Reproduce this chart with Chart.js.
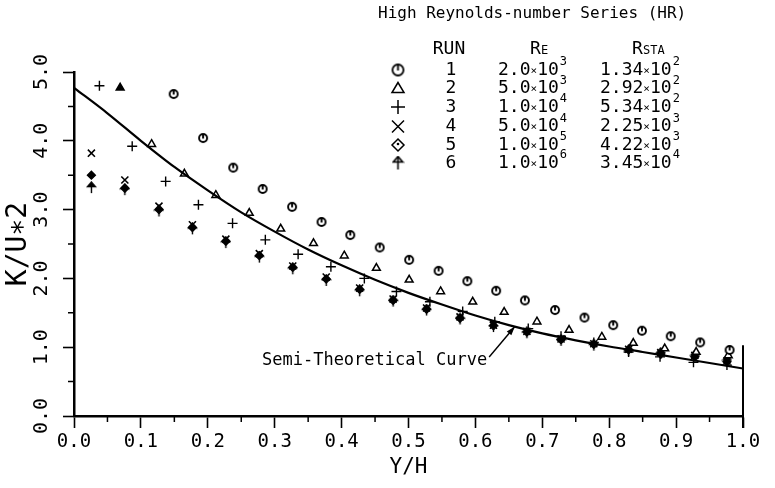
<!DOCTYPE html>
<html lang="en">
<head>
  <meta charset="UTF-8">
  <title>High Reynolds-number Series (HR)</title>
  <script src="https://cdn.jsdelivr.net/npm/chart.js"></script>
  <style>
    body {
      margin: 0;
      padding: 0;
      background: #fff;
    }
    canvas {
      display: block;
    }
  </style>
</head>
<body>
  <canvas id="myChart" width="775" height="488"></canvas>

  <script>
    // semi-theoretical curve
    const curveX = [0.00, 0.05, 0.10, 0.15, 0.20, 0.25, 0.30, 0.35, 0.40, 0.45, 0.50,
                    0.55, 0.60, 0.65, 0.70, 0.75, 0.80, 0.85, 0.90, 0.95, 1.00];
    const curveY = [4.77, 4.40, 4.00, 3.62, 3.28, 2.96, 2.68, 2.42, 2.19, 1.98, 1.79,
                    1.62, 1.46, 1.32, 1.20, 1.10, 1.01, 0.93, 0.85, 0.77, 0.69];

    // measured runs
    const run1X = [0.149, 0.193, 0.238, 0.282, 0.326, 0.370, 0.413, 0.457, 0.501, 0.545,
                   0.588, 0.631, 0.674, 0.719, 0.763, 0.806, 0.849, 0.892, 0.936, 0.980];
    const run1Y = [4.68, 4.04, 3.61, 3.30, 3.04, 2.82, 2.63, 2.45, 2.27, 2.11,
                   1.96, 1.82, 1.68, 1.54, 1.43, 1.32, 1.24, 1.16, 1.07, 0.96];

    const run2X = [0.069, 0.116, 0.165, 0.212, 0.262, 0.309, 0.358, 0.404, 0.452, 0.501,
                   0.548, 0.596, 0.643, 0.692, 0.740, 0.789, 0.836, 0.883, 0.930, 0.978];
    const run2Y = [4.77, 3.95, 3.52, 3.21, 2.95, 2.72, 2.51, 2.33, 2.15, 1.98,
                   1.81, 1.66, 1.51, 1.37, 1.25, 1.15, 1.06, 0.98, 0.93, 0.88];

    const run3X = [0.038, 0.087, 0.137, 0.186, 0.237, 0.286, 0.335, 0.384, 0.434, 0.482,
                   0.532, 0.581, 0.629, 0.679, 0.728, 0.777, 0.829, 0.876, 0.926, 0.976];
    const run3Y = [4.80, 3.92, 3.41, 3.07, 2.80, 2.56, 2.35, 2.17, 2.00, 1.81,
                   1.66, 1.52, 1.37, 1.27, 1.16, 1.07, 0.93, 0.86, 0.78, 0.74];

    // runs 4-6 share the same stations
    const run456X = [0.026, 0.076, 0.127, 0.177, 0.227, 0.277, 0.327, 0.377, 0.427, 0.477,
                     0.527, 0.577, 0.627, 0.677, 0.728, 0.777, 0.829, 0.877, 0.928, 0.976];
    const run4Y = [3.82, 3.43, 3.05, 2.78, 2.57, 2.36, 2.18, 2.02, 1.86, 1.70,
                   1.57, 1.44, 1.32, 1.23, 1.12, 1.05, 0.97, 0.92, 0.88, 0.80];
    const run5Y = [3.50, 3.31, 3.00, 2.74, 2.54, 2.33, 2.16, 1.99, 1.84, 1.68,
                   1.55, 1.42, 1.31, 1.22, 1.11, 1.04, 0.96, 0.90, 0.86, 0.79];
    const run6Y = [3.32, 3.29, 2.98, 2.72, 2.52, 2.31, 2.14, 1.97, 1.82, 1.67,
                   1.54, 1.41, 1.30, 1.21, 1.10, 1.03, 0.95, 0.91, 0.87, 0.80];

    // axes
    const xTickLabels = ['0.0', '0.1', '0.2', '0.3', '0.4', '0.5', '0.6', '0.7', '0.8', '0.9', '1.0'];
    const yTickLabels = ['0.0', '1.0', '2.0', '3.0', '4.0', '5.0'];
    const xMinorTicks = [0.05, 0.15, 0.25, 0.35, 0.45, 0.55, 0.65, 0.75, 0.85, 0.95];
    const yMinorTicks = [0.5, 1.5, 2.5, 3.5, 4.5];

    // legend table
    const runNames = ['1', '2', '3', '4', '5', '6'];
    const reMant = ['2.0', '5.0', '1.0', '5.0', '1.0', '1.0'];
    const reExp = ['3', '3', '4', '4', '5', '6'];
    const rstaMant = ['1.34', '2.92', '5.34', '2.25', '4.22', '3.45'];
    const rstaExp = ['2', '2', '2', '3', '3', '4'];

    const FONT = "'DejaVu Sans Mono', monospace";

    function pts(xs, ys) {
      return xs.map((x, i) => ({ x: x, y: ys[i] }));
    }

    // circle with a little tick at the top
    function makeClock(r, lw) {
      const c = document.createElement('canvas');
      const s = Math.ceil(2 * r + lw + 2);
      c.width = s; c.height = s;
      const g = c.getContext('2d');
      g.strokeStyle = '#000'; g.fillStyle = '#fff'; g.lineWidth = lw;
      g.beginPath(); g.arc(s / 2, s / 2, r, 0, Math.PI * 2); g.fill(); g.stroke();
      g.beginPath(); g.moveTo(s / 2, s / 2 - r); g.lineTo(s / 2, s / 2 + 0.5); g.stroke();
      return c;
    }

    // arrow pointing up
    function makeArrow(h, filled, lw) {
      const c = document.createElement('canvas');
      const w = Math.ceil(h * 0.8) + 2;
      c.width = w; c.height = h + 2;
      const g = c.getContext('2d');
      g.strokeStyle = '#000'; g.fillStyle = filled ? '#000' : '#fff'; g.lineWidth = lw;
      const cx = w / 2;
      g.beginPath();
      g.moveTo(cx, 1); g.lineTo(cx - h * 0.36, h * 0.5); g.lineTo(cx + h * 0.36, h * 0.5); g.closePath();
      g.fill(); g.stroke();
      g.beginPath(); g.moveTo(cx, 1); g.lineTo(cx, h + 1); g.stroke();
      return c;
    }

    const clockPoint = makeClock(4, 1.9);
    const clockLegend = makeClock(5.5, 1.8);
    const arrowPoint = makeArrow(11, true, 1.4);
    const arrowLegend = makeArrow(13, false, 1.6);

    const decorations = {
      id: 'decorations',
      afterDraw(chart) {
        const ctx = chart.ctx;
        const area = chart.chartArea;
        const xs = chart.scales.x;
        const ys = chart.scales.y;

        ctx.save();
        ctx.strokeStyle = '#000';
        ctx.fillStyle = '#000';
        ctx.lineCap = 'butt';

        // minor ticks
        ctx.lineWidth = 1.5;
        ctx.beginPath();
        xMinorTicks.forEach(v => {
          const px = xs.getPixelForValue(v);
          ctx.moveTo(px, area.bottom); ctx.lineTo(px, area.bottom + 6);
        });
        yMinorTicks.forEach(v => {
          const py = ys.getPixelForValue(v);
          ctx.moveTo(area.left - 6, py); ctx.lineTo(area.left, py);
        });
        ctx.stroke();

        // short right-hand edge
        ctx.lineWidth = 2;
        ctx.beginPath();
        ctx.moveTo(area.right, ys.getPixelForValue(1.03));
        ctx.lineTo(area.right, area.bottom + 12);
        ctx.stroke();

        // curve label with arrow
        ctx.font = '17px ' + FONT;
        ctx.textAlign = 'left';
        ctx.textBaseline = 'middle';
        const lx = xs.getPixelForValue(0.281);
        const ly = ys.getPixelForValue(0.80);
        ctx.fillText('Semi-Theoretical Curve', lx, ly);
        const tw = ctx.measureText('Semi-Theoretical Curve').width;
        const ax0 = lx + tw + 2, ay0 = ly - 4;
        const ax1 = xs.getPixelForValue(0.659), ay1 = ys.getPixelForValue(1.30);
        ctx.lineWidth = 1.4;
        ctx.beginPath(); ctx.moveTo(ax0, ay0); ctx.lineTo(ax1, ay1); ctx.stroke();
        const ang = Math.atan2(ay1 - ay0, ax1 - ax0);
        ctx.beginPath();
        ctx.moveTo(ax1, ay1);
        ctx.lineTo(ax1 - 9 * Math.cos(ang) + 3 * Math.sin(ang), ay1 - 9 * Math.sin(ang) - 3 * Math.cos(ang));
        ctx.lineTo(ax1 - 9 * Math.cos(ang) - 3 * Math.sin(ang), ay1 - 9 * Math.sin(ang) + 3 * Math.cos(ang));
        ctx.closePath(); ctx.fill();

        // legend table
        ctx.font = '16px ' + FONT;
        ctx.textAlign = 'left';
        ctx.fillText('High Reynolds-number Series (HR)', 378, 14);

        ctx.font = '18px ' + FONT;
        ctx.textAlign = 'center';
        ctx.fillText('RUN', 449, 49);
        ctx.textAlign = 'left';
        ctx.fillText('R', 530, 49);
        ctx.fillText('R', 632, 49);
        ctx.font = '12px ' + FONT;
        ctx.fillText('E', 541, 51);
        ctx.fillText('STA', 643, 51);

        const rowY = [70, 88.5, 107, 126.5, 145, 163];
        function sci(mant, exp, x, y) {
          ctx.textAlign = 'left';
          ctx.font = '18px ' + FONT;
          ctx.fillText(mant, x, y);
          let cx = x + ctx.measureText(mant).width;
          ctx.font = '11px ' + FONT;
          ctx.fillText('\u00d7', cx, y + 1);
          cx += ctx.measureText('\u00d7').width;
          ctx.font = '18px ' + FONT;
          ctx.fillText('10', cx, y);
          cx += ctx.measureText('10').width;
          ctx.font = '12px ' + FONT;
          ctx.fillText(exp, cx + 1, y - 8);
        }
        const symX = 398;
        runNames.forEach((name, i) => {
          const y = rowY[i];
          ctx.font = '18px ' + FONT;
          ctx.textAlign = 'center';
          ctx.fillText(name, 451, y);
          sci(reMant[i], reExp[i], 498, y);
          sci(rstaMant[i], rstaExp[i], 600, y);

          // symbol
          ctx.lineWidth = 1.5;
          ctx.fillStyle = '#fff';
          if (i === 0) {
            ctx.drawImage(clockLegend, symX - clockLegend.width / 2, y - clockLegend.height / 2);
          } else if (i === 1) {
            ctx.beginPath();
            ctx.moveTo(symX, y - 6); ctx.lineTo(symX - 6, y + 4); ctx.lineTo(symX + 6, y + 4); ctx.closePath();
            ctx.stroke();
          } else if (i === 2) {
            ctx.beginPath();
            ctx.moveTo(symX - 7, y); ctx.lineTo(symX + 7, y);
            ctx.moveTo(symX, y - 7); ctx.lineTo(symX, y + 7);
            ctx.stroke();
          } else if (i === 3) {
            ctx.beginPath();
            ctx.moveTo(symX - 6, y - 6); ctx.lineTo(symX + 6, y + 6);
            ctx.moveTo(symX + 6, y - 6); ctx.lineTo(symX - 6, y + 6);
            ctx.stroke();
          } else if (i === 4) {
            ctx.beginPath();
            ctx.moveTo(symX, y - 6); ctx.lineTo(symX + 6, y); ctx.lineTo(symX, y + 6); ctx.lineTo(symX - 6, y); ctx.closePath();
            ctx.stroke();
            ctx.fillStyle = '#000';
            ctx.beginPath(); ctx.arc(symX, y - 1, 1.3, 0, Math.PI * 2); ctx.fill();
          } else {
            ctx.drawImage(arrowLegend, symX - arrowLegend.width / 2, y - arrowLegend.height / 2);
          }
          ctx.fillStyle = '#000';
        });

        ctx.restore();
      }
    };

    const axisFont = { family: FONT, size: 19 };

    const ctx = document.getElementById('myChart').getContext('2d');
    const myChart = new Chart(ctx, {
      type: 'scatter',
      data: {
        datasets: [
          {
            label: 'Semi-Theoretical Curve',
            data: pts(curveX, curveY),
            showLine: true,
            borderColor: '#000',
            borderWidth: 2.2,
            pointRadius: 0,
            cubicInterpolationMode: 'monotone',
            fill: false
          },
          {
            label: 'Run 1',
            data: pts(run1X, run1Y),
            pointStyle: clockPoint,
            pointRadius: 5
          },
          {
            label: 'Run 2',
            data: pts(run2X, run2Y),
            pointStyle: 'triangle',
            pointRadius: 4.5,
            pointBorderWidth: 1.5,
            pointBorderColor: '#000',
            pointBackgroundColor: c => (c.dataIndex === 0 ? '#000' : '#fff')
          },
          {
            label: 'Run 3',
            data: pts(run3X, run3Y),
            pointStyle: 'cross',
            pointRadius: 5,
            pointBorderWidth: 1.4,
            pointBorderColor: '#000'
          },
          {
            label: 'Run 4',
            data: pts(run456X, run4Y),
            pointStyle: 'crossRot',
            pointRadius: 5,
            pointBorderWidth: 1.6,
            pointBorderColor: '#000'
          },
          {
            label: 'Run 5',
            data: pts(run456X, run5Y),
            pointStyle: 'rectRot',
            pointRadius: 4,
            pointBorderWidth: 1.3,
            pointBorderColor: '#000',
            pointBackgroundColor: '#000'
          },
          {
            label: 'Run 6',
            data: pts(run456X, run6Y),
            pointStyle: arrowPoint,
            pointRadius: 6
          }
        ]
      },
      options: {
        responsive: false,
        animation: false,
        layout: {
          padding: { left: 0, top: 72, right: 32, bottom: 0 }
        },
        plugins: {
          legend: { display: false },
          tooltip: { enabled: false },
          title: { display: false }
        },
        scales: {
          x: {
            type: 'linear',
            min: 0,
            max: 1,
            afterFit(scale) { scale.height = 72; },
            ticks: {
              stepSize: 0.1,
              color: '#000',
              font: axisFont,
              padding: 3,
              maxRotation: 0,
              callback: (v, i) => xTickLabels[i]
            },
            grid: {
              display: true,
              drawOnChartArea: false,
              drawTicks: true,
              tickLength: 12,
              tickWidth: 1.6,
              tickColor: '#000'
            },
            border: { display: true, color: '#000', width: 2.5 },
            title: {
              display: true,
              text: 'Y/H',
              color: '#000',
              font: { family: FONT, size: 21 },
              padding: { top: 0, bottom: 8 }
            }
          },
          y: {
            type: 'linear',
            min: 0,
            max: 5,
            afterFit(scale) { scale.width = 74; },
            ticks: {
              stepSize: 1,
              color: '#000',
              font: { family: FONT, size: 20 },
              padding: 3,
              minRotation: 90,
              maxRotation: 90,
              crossAlign: 'center',
              callback: (v, i) => yTickLabels[i]
            },
            grid: {
              display: true,
              drawOnChartArea: false,
              drawTicks: true,
              tickLength: 11,
              tickWidth: 1.6,
              tickColor: '#000'
            },
            border: { display: true, color: '#000', width: 2.5 },
            title: {
              display: true,
              text: 'K/U\u22172',
              color: '#000',
              font: { family: FONT, size: 28 },
              padding: { top: 2, bottom: 0 }
            }
          }
        }
      },
      plugins: [decorations]
    });
  </script>
</body>
</html>
